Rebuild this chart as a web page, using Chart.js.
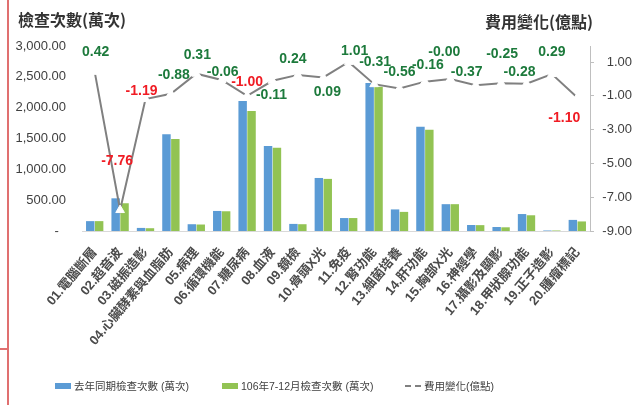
<!DOCTYPE html>
<html>
<head>
<meta charset="utf-8">
<script src="https://cdn.jsdelivr.net/npm/chart.js@4.4.1/dist/chart.umd.min.js"></script>
<style>
    body { margin: 0; background: #fff; }
    #wrap { position: relative; width: 636px; height: 405px; overflow: hidden; }
    #chartBox { position: absolute; left: 0; top: 0; width: 636px; height: 405px; }
    .ttl { position: absolute; font: bold 16px 'Noto Sans CJK TC', sans-serif; color: #333; white-space: nowrap; }
    #frameV { position: absolute; left: 7px; top: 0; width: 2px; height: 405px; background: #e07070; }
    #frameH { position: absolute; left: 0; top: 348px; width: 8px; height: 2px; background: #e07070; }
    .lg { position: absolute; top: 378px; font: 10.5px 'Liberation Sans', 'Noto Sans CJK TC', sans-serif; color: #404040; white-space: nowrap; display: flex; align-items: center; }
    .lg i { display: inline-block; width: 16px; height: 6px; margin-right: 3px; }
</style>
</head>
<body>
<div id="wrap">
    <div id="chartBox"><canvas id="myChart"></canvas></div>
    <div class="ttl" style="left:18px; top:7px;">檢查次數(萬次)</div>
    <div class="ttl" style="left:485px; top:9px;">費用變化(億點)</div>
    <div id="frameV"></div>
    <div id="frameH"></div>
    <div id="legend"></div>
</div>
<script>
// Kategorie
const categories = ['01.電腦斷層', '02.超音波', '03.磁振造影', '04.心臟酵素與血脂肪', '05.病理',
    '06.循環機能', '07.糖尿病', '08.血液', '09.鏡檢', '10.骨頭X光', '11.免疫', '12.腎功能',
    '13.細菌培養', '14.肝功能', '15.胸部X光', '16.神經學', '17.攝影及顯影', '18.甲狀腺功能',
    '19.正子造影', '20.腫瘤標記'];

// Hodnoty (萬次 / 億點)
const lastYear = [160, 530, 50, 1570, 110, 325, 2110, 1380, 115, 860, 210, 2400, 350, 1690, 435, 97, 65, 275, 8, 180];
const thisYear = [160, 450, 45, 1490, 105, 320, 1945, 1350, 110, 845, 210, 2340, 310, 1640, 435, 95, 60, 255, 8, 155];
const costChange = [0.42, -7.76, -1.19, -0.88, 0.31, -0.06, -1.00, -0.11, 0.24, 0.09, 1.01, -0.31,
    -0.56, -0.16, -0.00, -0.37, -0.25, -0.28, 0.29, -1.10];

const seriesNames = ['去年同期檢查次數 (萬次)', '106年7-12月檢查次數 (萬次)', '費用變化(億點)'];
const rightTicks = [1, -1, -3, -5, -7, -9];

// posun popisků od bodu (px)
const labelDx = [1, -3, -4, 3, 1, 1, 0, -1, -5, 4, 6, 1, 0, 3, -6, -9, 1, -7, 0, -13];
const labelDy = [-20, -49, -8, -19, -19, -8, -14, 14, -16, 15, -11, -22, -16, -17, -27, -13, -29, -12, -22, 21];

const FONT = "'Liberation Sans', 'Noto Sans CJK TC', sans-serif";

function fmt2(v) {
    return (Object.is(v, -0) ? '-' : '') + v.toFixed(2);
}

const valueLabels = {
    id: 'valueLabels',
    afterDatasetsDraw(chart) {
        const meta = chart.getDatasetMeta(0);
        const ctx = chart.ctx;
        ctx.save();
        ctx.font = 'bold 14px ' + FONT;
        ctx.textAlign = 'center';
        ctx.textBaseline = 'middle';
        meta.data.forEach((pt, i) => {
            const v = costChange[i];
            ctx.fillStyle = v <= -1 ? '#f01c24' : '#1d7a3c';
            ctx.fillText(fmt2(v), pt.x + labelDx[i], pt.y + labelDy[i]);
        });
        ctx.restore();
    }
};

const ctx = document.getElementById('myChart').getContext('2d');
new Chart(ctx, {
    type: 'bar',
    data: {
        labels: categories,
        datasets: [{
            type: 'line',
            label: seriesNames[2],
            data: costChange,
            yAxisID: 'y1',
            order: 0,
            borderColor: '#808080',
            borderWidth: 2,
            tension: 0,
            pointStyle: 'triangle',
            pointRadius: 5,
            pointBackgroundColor: '#fff',
            pointBorderColor: '#fff',
            pointBorderWidth: 1
        }, {
            label: seriesNames[0],
            data: lastYear,
            yAxisID: 'y',
            order: 1,
            backgroundColor: '#5b9bd5',
            categoryPercentage: 0.7,
            barPercentage: 0.95
        }, {
            label: seriesNames[1],
            data: thisYear,
            yAxisID: 'y',
            order: 1,
            backgroundColor: '#92c353',
            categoryPercentage: 0.7,
            barPercentage: 0.95
        }]
    },
    options: {
        responsive: true,
        maintainAspectRatio: false,
        animation: false,
        layout: { padding: { top: 46, right: 4, left: 0, bottom: 0 } },
        plugins: {
            legend: { display: false },
            tooltip: { enabled: false }
        },
        scales: {
            x: {
                grid: { display: false },
                border: { display: true, color: '#d9d9d9', width: 1 },
                ticks: {
                    minRotation: 50,
                    maxRotation: 50,
                    autoSkip: false,
                    color: '#4a4a4a',
                    font: { family: FONT, size: 13, weight: 'bold' },
                    padding: 6
                },
                afterFit(scale) { scale.height = 174; }
            },
            y: {
                position: 'left',
                min: 0,
                max: 3000,
                grid: { display: false, drawTicks: false },
                border: { display: false },
                ticks: {
                    stepSize: 500,
                    padding: 16,
                    color: '#404040',
                    font: { family: FONT, size: 13 },
                    callback: v => v === 0 ? '-  ' : v.toLocaleString('en-US', { minimumFractionDigits: 2, maximumFractionDigits: 2 })
                },
                afterFit(scale) { scale.width = 82; }
            },
            y1: {
                position: 'right',
                min: -9,
                max: 1.95,
                grid: { drawOnChartArea: false, drawTicks: true, tickLength: 4, color: '#bfbfbf' },
                border: { display: true, color: '#bfbfbf' },
                afterBuildTicks(scale) { scale.ticks = rightTicks.map(v => ({ value: v })); },
                ticks: {
                    crossAlign: 'far',
                    color: '#404040',
                    font: { family: FONT, size: 13 },
                    callback: v => v.toFixed(2)
                },
                afterFit(scale) { scale.width = 42; }
            }
        }
    },
    plugins: [valueLabels]
});

// legenda
const legendPos = [55, 222, 405];
const legendSwatch = [
    'background:#5b9bd5',
    'background:#92c353',
    'height:2px;background:linear-gradient(to right,#808080 0 6px,transparent 6px 10px,#808080 10px 16px)'
];
const lg = document.getElementById('legend');
seriesNames.forEach((name, i) => {
    const el = document.createElement('div');
    el.className = 'lg';
    el.style.left = legendPos[i] + 'px';
    el.innerHTML = '<i style="' + legendSwatch[i] + '"></i>' + name;
    lg.appendChild(el);
});
</script>
</body>
</html>
